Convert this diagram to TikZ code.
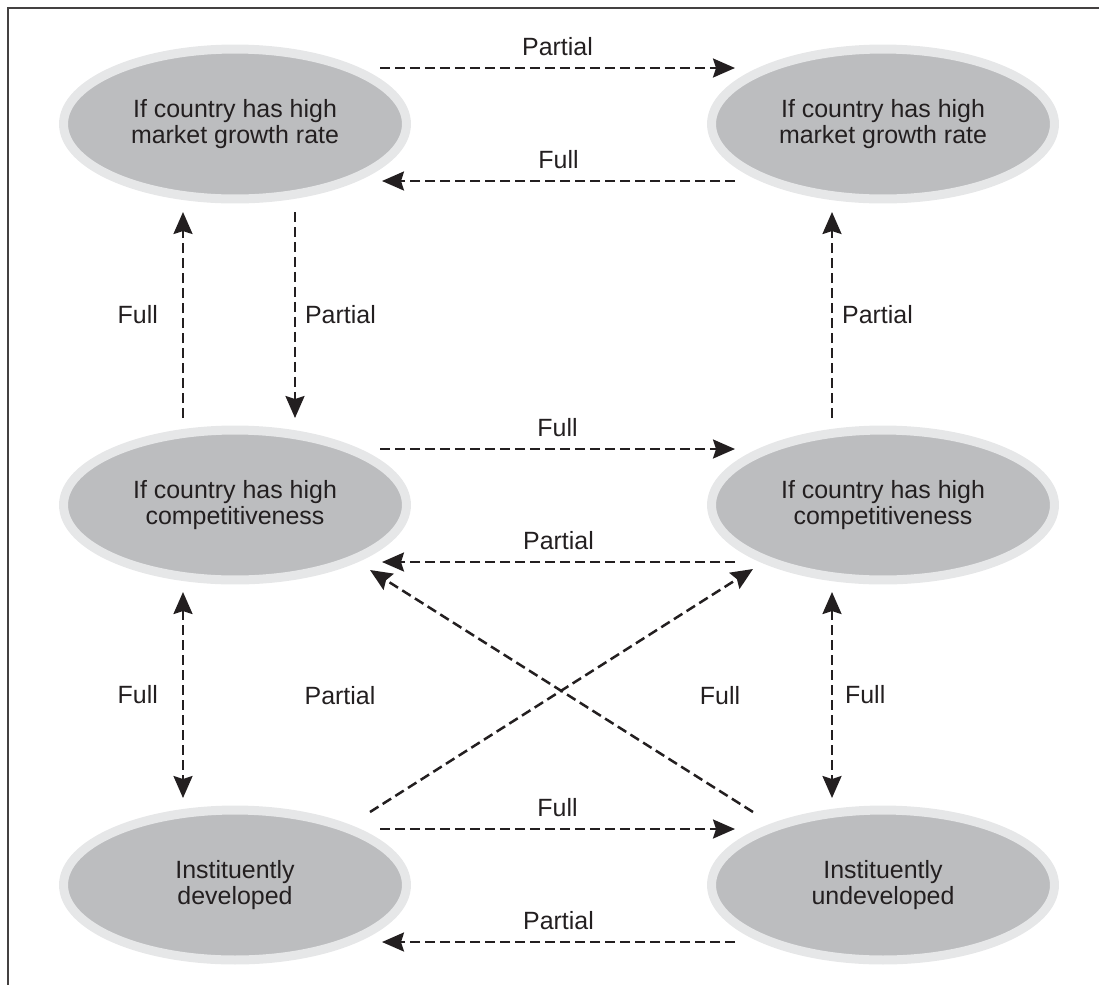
\documentclass[tikz,border=0pt]{standalone}
\usepackage{fontspec}
\setmainfont{Liberation Sans}
\usepackage{tikz}
\usetikzlibrary{
  arrows.meta, shapes.geometric, calc
}
\usepackage{xcolor}
\definecolor{ringgray}{HTML}{E6E7E8}
\definecolor{ovalgray}{HTML}{BCBDBF}
\definecolor{inkdark}{HTML}{231F20}
\tikzset{
  stateoval/.style={
    ellipse, draw=ringgray, line width=0.18cm,
    fill=ovalgray, inner sep=0pt,
    minimum width=6.86cm, minimum height=3.0cm,
    align=center, text=inkdark,
    font=\fontsize{14.2}{14.4}\selectfont
  },
  tip/.style={Stealth[length=0.44cm, width=0.38cm, inset=0.06cm]},
  arrow/.style={-{Stealth[length=0.44cm, width=0.38cm, inset=0.06cm]},
    line width=0.05cm, draw=inkdark, dash pattern=on 0.2cm off 0.1cm},
  darrow/.style={{Stealth[length=0.44cm, width=0.38cm, inset=0.06cm]}-{Stealth[length=0.44cm, width=0.38cm, inset=0.06cm]},
    line width=0.05cm, draw=inkdark, dash pattern=on 0.2cm off 0.1cm},
  lbl/.style={text=inkdark, font=\fontsize{14.2}{14.4}\selectfont},
  frame/.style={draw=inkdark!85, line width=0.6pt}
}
\begin{document}
\begin{tikzpicture}[x=0.02cm, y=-0.02cm]
  \useasboundingbox (0,0) rectangle (1099,985);
  \draw[frame] (1099,8) -- (8,8) -- (8,985);

  \node[stateoval] at (235,124) (growthL) {If country has high\\market growth rate};
  \node[stateoval] at (883,124) (growthR) {If country has high\\market growth rate};
  \node[stateoval] at (235,505) (compL) {If country has high\\competitiveness};
  \node[stateoval] at (883,505) (compR) {If country has high\\competitiveness};
  \node[stateoval] at (235,885) (devL) {Instituently\\developed};
  \node[stateoval] at (883,885) (undevR) {Instituently\\undeveloped};

  % horizontal pairs
  \draw[arrow] ($(growthL)+(145,-56)$) -- node[lbl, above=3pt]{Partial} ($(growthR)+(-148,-56)$);
  \draw[arrow] ($(growthR)+(-148,57)$) -- node[lbl, above=3pt]{Full} ($(growthL)+(147,57)$);
  \draw[arrow] ($(compL)+(145,-56)$) -- node[lbl, above=3pt]{Full} ($(compR)+(-148,-56)$);
  \draw[arrow] ($(compR)+(-148,57)$) -- node[lbl, above=3pt]{Partial} ($(compL)+(147,57)$);
  \draw[arrow] ($(devL)+(145,-56)$) -- node[lbl, above=3pt]{Full} ($(undevR)+(-148,-56)$);
  \draw[arrow] ($(undevR)+(-148,57)$) -- node[lbl, above=3pt]{Partial} ($(devL)+(147,57)$);

  % verticals
  \draw[arrow] ($(compL)+(-52,-87)$) -- node[lbl, left=0.36cm]{Full} ($(growthL)+(-52,88)$);
  \draw[arrow] ($(growthL)+(60,88)$) -- node[lbl, right=0.06cm]{Partial} ($(compL)+(60,-87)$);
  \draw[arrow] ($(compR)+(-51,-87)$) -- node[lbl, right=0.06cm]{Partial} ($(growthR)+(-51,88)$);
  \draw[darrow] ($(compL)+(-52,87)$) -- node[lbl, left=0.36cm]{Full} ($(devL)+(-52,-87)$);
  \draw[darrow] ($(compR)+(-51,87)$) -- node[lbl, right=0.12cm]{Full} ($(undevR)+(-51,-87)$);

  % cross
  \draw[arrow] ($(undevR)+(-130,-73)$) -- ($(compL)+(135,65)$);
  \draw[arrow] ($(devL)+(135,-73)$) -- ($(compR)+(-130,64)$);
  \node[lbl] at (340,696) (crossP) {Partial};
  \node[lbl] at (720,696) (crossF) {Full};
\end{tikzpicture}
\end{document}
